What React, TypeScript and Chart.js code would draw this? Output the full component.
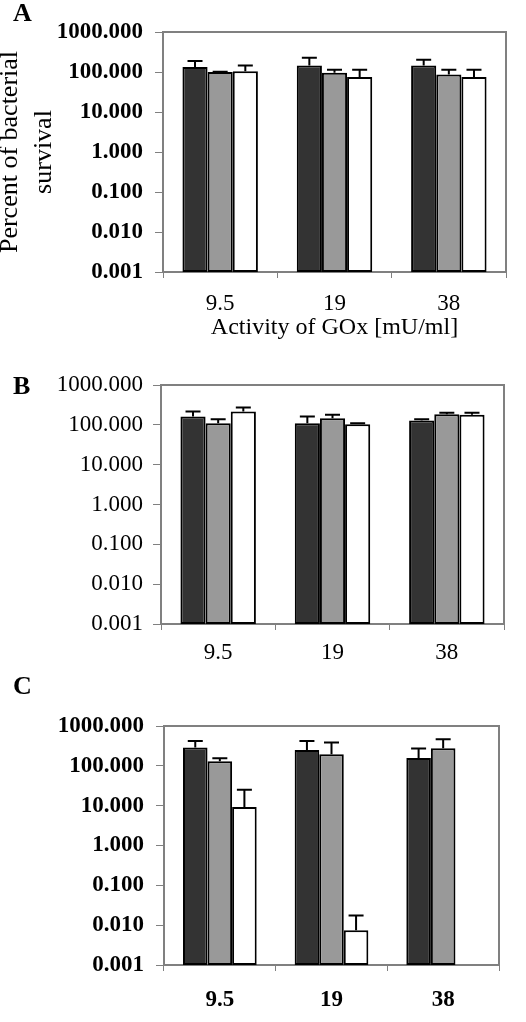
import React, { useEffect, useRef } from "react";
import { Chart, registerables } from "chart.js";

Chart.register(...registerables);

// ---------- data ----------
const categories = ["9.5", "19", "38"];
const yTickValues = [0.001, 0.01, 0.1, 1, 10, 100, 1000];
const seriesNames = ["Series 1", "Series 2", "Series 3"];
const seriesColors = ["#333333", "#999999", "#ffffff"];

// Panel A
const aSeries1 = [133, 146, 146];
const aSeries2 = [100, 96, 86];
const aSeries3 = [104, 75, 75];
const aUpper1 = [188, 228, 203];
const aUpper2 = [102, 114, 114];
const aUpper3 = [146, 114, 114];

// Panel B
const bSeries1 = [162, 110, 128];
const bSeries2 = [110, 147, 185];
const bSeries3 = [215, 104, 178];
const bUpper1 = [215, 162, 139];
const bUpper2 = [139, 178, 200];
const bUpper3 = [271, 110, 200];

// Panel C
const cSeries1 = [287, 251, 158];
const cSeries2 = [131, 196, 277];
const cSeries3 = [9.3, 0.0075, null];
const cUpper1 = [422, 422, 271];
const cUpper2 = [155, 383, 464];
const cUpper3 = [25, 0.0174, null];

const yTitleLines = ["Percent of bacterial", "survival"];
const xTitleText = "Activity of GOx [mU/ml]";
const panelLetters = ["A", "B", "C"];

const FONT = "'Liberation Serif', 'Times New Roman', serif";
const W = 526;

type Area = { left: number; top: number; right: number; bottom: number };
type Panel = {
  letter: string;
  canvasTop: number;
  height: number;
  area: Area;
  yPad: number;
  xPad: number;
  yBold: boolean;
  xBold: boolean;
  values: (number | null)[][];
  uppers: (number | null)[][];
  yTitle: boolean;
  xTitle: boolean;
  letterTop: number;
};

const panels: Panel[] = [
  {
    letter: panelLetters[0],
    canvasTop: 0,
    height: 345,
    area: { left: 163, top: 32, right: 506, bottom: 272 },
    yPad: 12,
    xPad: 12,
    yBold: true,
    xBold: false,
    values: [aSeries1, aSeries2, aSeries3],
    uppers: [aUpper1, aUpper2, aUpper3],
    yTitle: true,
    xTitle: true,
    letterTop: 0,
  },
  {
    letter: panelLetters[1],
    canvasTop: 345,
    height: 320,
    area: { left: 161, top: 40, right: 504, bottom: 279 },
    yPad: 10,
    xPad: 9,
    yBold: false,
    xBold: false,
    values: [bSeries1, bSeries2, bSeries3],
    uppers: [bUpper1, bUpper2, bUpper3],
    yTitle: false,
    xTitle: false,
    letterTop: 373,
  },
  {
    letter: panelLetters[2],
    canvasTop: 665,
    height: 357,
    area: { left: 164, top: 61, right: 499, bottom: 300 },
    yPad: 12,
    xPad: 15,
    yBold: true,
    xBold: true,
    values: [cSeries1, cSeries2, cSeries3],
    uppers: [cUpper1, cUpper2, cUpper3],
    yTitle: false,
    xTitle: false,
    letterTop: 673,
  },
];

const framePlugin = {
  id: "frame",
  beforeDatasetsDraw(chart: any) {
    const { ctx, chartArea } = chart;
    ctx.save();
    ctx.strokeStyle = "#808080";
    ctx.lineWidth = 2;
    ctx.strokeRect(chartArea.left, chartArea.top, chartArea.right - chartArea.left, chartArea.bottom - chartArea.top);
    ctx.restore();
  },
};

const errorBarPlugin = {
  id: "errorBars",
  afterDatasetsDraw(chart: any, _args: any, opts: any) {
    const uppers: (number | null)[][] = opts.uppers || [];
    const { ctx } = chart;
    const yScale = chart.scales.y;
    ctx.save();
    ctx.strokeStyle = "#000000";
    ctx.lineWidth = 2;
    uppers.forEach((arr, di) => {
      const meta = chart.getDatasetMeta(di);
      arr.forEach((u, i) => {
        const el: any = meta.data[i];
        const v = chart.data.datasets[di].data[i];
        if (u == null || v == null || !el) return;
        const x = el.x;
        const yTop = el.y;
        const yErr = yScale.getPixelForValue(u);
        const half = 7.5;
        ctx.beginPath();
        ctx.moveTo(x, yTop);
        ctx.lineTo(x, yErr);
        ctx.moveTo(x - half, yErr);
        ctx.lineTo(x + half, yErr);
        ctx.stroke();
      });
    });
    ctx.restore();
  },
};

function PanelChart({ p }: { p: Panel }) {
  const ref = useRef<HTMLCanvasElement | null>(null);
  useEffect(() => {
    if (!ref.current) return;
    const H = p.height;
    const chart = new Chart(ref.current, {
      type: "bar",
      data: {
        labels: categories,
        datasets: p.values.map((vals, i) => ({
          label: seriesNames[i],
          data: vals as any,
          backgroundColor: seriesColors[i],
          borderColor: "#000000",
          borderWidth: 2,
          borderSkipped: false,
          categoryPercentage: 0.66,
          barPercentage: 1.0,
        })),
      },
      options: {
        animation: false,
        responsive: false,
        maintainAspectRatio: false,
        layout: {
          padding: { left: 0, top: p.area.top, right: W - p.area.right, bottom: 0 },
        },
        plugins: {
          legend: { display: false },
          tooltip: { enabled: false },
          errorBars: { uppers: p.uppers },
        } as any,
        scales: {
          x: {
            type: "category",
            grid: {
              display: true,
              drawOnChartArea: false,
              drawTicks: true,
              tickLength: 6,
              color: "#808080",
              lineWidth: 1,
              offset: true,
            },
            border: { display: false },
            ticks: {
              color: "#000000",
              padding: p.xPad,
              font: { family: FONT, size: 23, weight: p.xBold ? "bold" : "normal", lineHeight: 1.2 },
              maxRotation: 0,
              autoSkip: false,
            },
            title: {
              display: p.xTitle,
              text: xTitleText,
              color: "#000000",
              font: { family: FONT, size: 24, lineHeight: 1.2 },
              padding: { top: 0, bottom: 3 },
            },
            afterFit: (s: any) => {
              s.height = H - p.area.bottom;
            },
          },
          y: {
            type: "logarithmic",
            min: 0.001,
            max: 1000,
            grid: {
              display: true,
              drawOnChartArea: false,
              drawTicks: true,
              tickLength: 8,
              color: "#808080",
              lineWidth: 1,
            },
            border: { display: false },
            ticks: {
              color: "#000000",
              padding: p.yPad,
              font: { family: FONT, size: 23, weight: p.yBold ? "bold" : "normal", lineHeight: 1.2 },
              autoSkip: false,
              callback: (v: any) => Number(v).toFixed(3),
            },
            afterBuildTicks: (s: any) => {
              s.ticks = yTickValues.map((v) => ({ value: v }));
            },
            title: {
              display: p.yTitle,
              text: yTitleLines,
              color: "#000000",
              font: { family: FONT, size: 26, lineHeight: 1.32 },
              padding: { top: -7, bottom: 0 },
            },
            afterFit: (s: any) => {
              s.width = p.area.left;
            },
          },
        },
      } as any,
      plugins: [framePlugin, errorBarPlugin],
    });
    return () => chart.destroy();
  }, [p]);
  return (
    <canvas
      ref={ref}
      width={W}
      height={p.height}
      style={{ position: "absolute", left: 0, top: p.canvasTop, width: W, height: p.height }}
    />
  );
}

export default function App() {
  return (
    <div style={{ position: "absolute", left: 0, top: 0, width: W, height: 1022, background: "#ffffff" }}>
      {panels.map((p) => (
        <React.Fragment key={p.letter}>
          <PanelChart p={p} />
          <div
            style={{
              position: "absolute",
              left: 13,
              top: p.letterTop,
              fontFamily: FONT,
              fontSize: 26,
              fontWeight: "bold",
              lineHeight: "26px",
              color: "#000",
            }}
          >
            {p.letter}
          </div>
        </React.Fragment>
      ))}
    </div>
  );
}
